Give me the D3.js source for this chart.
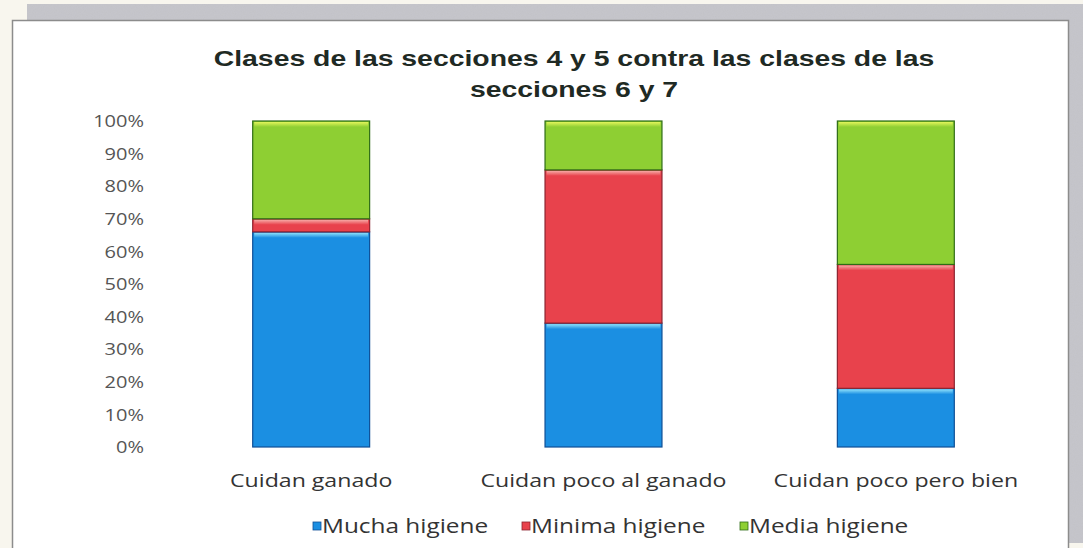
<!DOCTYPE html>
<html>
<head>
<meta charset="utf-8">
<script src="https://cdn.jsdelivr.net/npm/d3@7/dist/d3.min.js"></script>
<style>
  html, body { margin: 0; padding: 0; background: #f8f6ee; }
  svg { display: block; }
</style>
</head>
<body>
<svg id="chart" width="1083" height="548"></svg>
<script>
// Data: share (%) of each hygiene class per group
const categories = ["Cuidan ganado", "Cuidan poco al ganado", "Cuidan poco pero bien"];
const seriesNames = ["Mucha higiene", "Minima higiene", "Media higiene"];
const muchaHigiene = [66, 38, 18];
const minimaHigiene = [4, 47, 38];
const mediaHigiene = [30, 15, 44];
const yTickValues = [0, 10, 20, 30, 40, 50, 60, 70, 80, 90, 100];
const titleLines = ["Clases de las secciones 4 y 5 contra las clases de las", "secciones 6 y 7"];

const palette = {
  "Mucha higiene":  { fill: "#1b8fe2", light: "#8ee0fb", edge: "#0f4f96" },
  "Minima higiene": { fill: "#e8424c", light: "#f7aaa6", edge: "#8c2430" },
  "Media higiene":  { fill: "#8ecf33", light: "#e2f55a", edge: "#2f6d17" }
};

const rows = categories.map((c, i) => ({
  category: c,
  "Mucha higiene": muchaHigiene[i],
  "Minima higiene": minimaHigiene[i],
  "Media higiene": mediaHigiene[i]
}));
const stacked = d3.stack().keys(seriesNames)(rows);

const svg = d3.select("#chart");
const SX = 1.25; // horizontal stretch of the lettering

// Outer backdrop: grey shadow band and white chart frame
const defs = svg.append("defs");
const noise = defs.append("filter").attr("id", "grain").attr("x", 0).attr("y", 0).attr("width", 1).attr("height", 1);
noise.append("feTurbulence").attr("type", "fractalNoise").attr("baseFrequency", 0.9).attr("numOctaves", 2).attr("result", "n");
noise.append("feColorMatrix").attr("in", "n").attr("type", "matrix")
  .attr("values", "0 0 0 0 0.6  0 0 0 0 0.6  0 0 0 0 0.65  0 0 0 0.45 0").attr("result", "c");
noise.append("feComposite").attr("in", "c").attr("in2", "SourceGraphic").attr("operator", "in").attr("result", "t");
noise.append("feMerge").selectAll("feMergeNode").data(["SourceGraphic", "t"]).join("feMergeNode").attr("in", d => d);

svg.append("path")
  .attr("d", "M27,4 H1083 V543 H1069 V20 H27 Z")
  .attr("fill", "#c2c2c7")
  .attr("filter", "url(#grain)");

svg.append("rect")
  .attr("x", 12.5).attr("y", 20.5)
  .attr("width", 1056).attr("height", 540)
  .attr("fill", "#ffffff")
  .attr("stroke", "#8c8c8c")
  .attr("stroke-width", 1.5);

// Scales
const x = d3.scaleBand().domain(categories).range([165, 1042]).paddingInner(0.6).paddingOuter(0.3);
const y = d3.scaleLinear().domain([0, 100]).range([447, 121]);

// Title
const title = svg.append("g").attr("transform", `translate(574,0)`);
title.selectAll("text").data(titleLines).join("text")
  .attr("transform", (d, i) => `translate(0,${66 + i * 31}) scale(1.29,1)`)
  .attr("text-anchor", "middle")
  .attr("font-family", "'Liberation Sans', Arial, sans-serif")
  .attr("font-weight", "bold")
  .attr("font-size", 22)
  .attr("fill", "#1f2a24")
  .text(d => d);

// Y axis (labels only)
const yAxis = svg.append("g")
  .attr("transform", "translate(144,0)")
  .call(d3.axisLeft(y).tickValues(yTickValues).tickFormat(d => d + "%").tickSize(0).tickPadding(0));
yAxis.select(".domain").remove();
yAxis.selectAll("text")
  .attr("font-family", "'Open Sans', sans-serif")
  .attr("font-size", 16)
  .attr("fill", "#555555")
  .attr("dy", "0.35em")
  .attr("transform", `scale(${SX},1)`);

// Stacked bars
const layer = svg.append("g").selectAll("g").data(stacked).join("g");
const seg = layer.selectAll("g").data(s => s.map(d => ({ key: s.key, d }))).join("g");

seg.append("rect")
  .attr("x", p => x(p.d.data.category))
  .attr("y", p => y(p.d[1]))
  .attr("width", x.bandwidth())
  .attr("height", p => y(p.d[0]) - y(p.d[1]))
  .attr("fill", p => palette[p.key].fill)
  .attr("stroke", p => palette[p.key].edge)
  .attr("stroke-width", 1.2);

seriesNames.forEach(k => {
  const g = defs.append("linearGradient").attr("id", "hl-" + k.replace(/\s/g, ""))
    .attr("x1", 0).attr("y1", 0).attr("x2", 0).attr("y2", 1);
  g.append("stop").attr("offset", 0).attr("stop-color", palette[k].light);
  g.append("stop").attr("offset", 1).attr("stop-color", palette[k].fill);
});

seg.append("rect")
  .attr("x", p => x(p.d.data.category) + 1.5)
  .attr("y", p => y(p.d[1]) + 1)
  .attr("width", x.bandwidth() - 3)
  .attr("height", p => Math.min(5, Math.max(0, y(p.d[0]) - y(p.d[1]) - 2)))
  .attr("fill", p => `url(#hl-${p.key.replace(/\s/g, "")})`);

// Category labels
const xAxis = svg.append("g")
  .attr("transform", "translate(0,481)")
  .call(d3.axisBottom(x).tickSize(0).tickPadding(0));
xAxis.select(".domain").remove();
xAxis.selectAll("text")
  .attr("font-family", "'Open Sans', sans-serif")
  .attr("font-size", 18.5)
  .attr("fill", "#333333")
  .attr("dy", "0.35em")
  .attr("transform", `scale(${SX},1)`);

// Legend
const legendX = [313, 522, 740];
const legend = svg.append("g").selectAll("g").data(seriesNames).join("g")
  .attr("transform", (d, i) => `translate(${legendX[i]},526)`);
legend.append("rect")
  .attr("x", 0).attr("y", -4)
  .attr("width", 8).attr("height", 8)
  .attr("fill", d => palette[d].fill)
  .attr("stroke", d => palette[d].edge)
  .attr("stroke-width", 0.8);
legend.append("text")
  .attr("transform", `translate(9,0) scale(${SX},1)`)
  .attr("dy", "0.35em")
  .attr("font-family", "'Open Sans', sans-serif")
  .attr("font-size", 19.5)
  .attr("fill", "#333333")
  .text(d => d);
</script>
</body>
</html>
